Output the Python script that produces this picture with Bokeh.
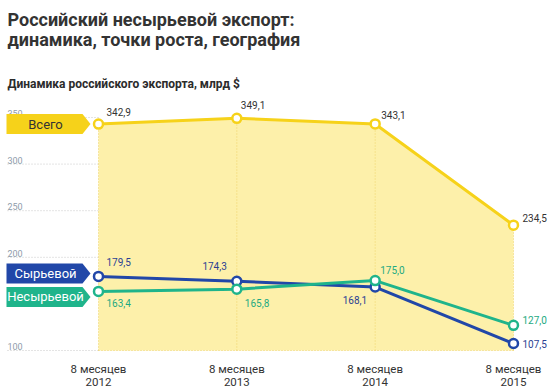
from bokeh.plotting import figure
from bokeh.models import Range1d, PolyAnnotation, Label
from bokeh.core.properties import value
from bokeh.embed import file_html
from bokeh.resources import INLINE

# ---- data ----
periods = ["8 месяцев\n2012", "8 месяцев\n2013", "8 месяцев\n2014", "8 месяцев\n2015"]
total = [342.9, 349.1, 343.1, 234.5]
raw = [179.5, 174.3, 168.1, 107.5]
nonraw = [163.4, 165.8, 175.0, 127.0]
y_ticks = [100, 200, 250, 300, 350]
series_names = ["Всего", "Сырьевой", "Несырьевой"]

# ---- layout constants ----
W, H = 550, 388
PX_X = 138.33          # px per x unit
PX_Y = 0.932           # px per y unit
X0 = -98 / PX_X
X1 = X0 + W / PX_X
Y1 = 100 + 350 / PX_Y
Y0 = Y1 - H / PX_Y
FONT = "Roboto"

def fx(px):
    return X0 + px / PX_X

def fy(px):
    return Y1 - px / PX_Y

YELLOW = "#f6d21a"
FILL = "#fdf0aa"
BLUE = "#2147a8"
TEAL = "#1fb48b"
DARK = "#333333"

xs = list(range(len(periods)))

p = figure(width=W, height=H, x_range=Range1d(X0, X1), y_range=Range1d(Y0, Y1),
           output_backend="svg", toolbar_location=None, title=None,
           x_axis_location=None, y_axis_location=None,
           min_border_left=0, min_border_right=0,
           min_border_top=0, min_border_bottom=0, outline_line_color=None,
           background_fill_color="white", border_fill_color="white")
p.xgrid.visible = False
p.ygrid.visible = False

# x tick labels (two lines each)
line1 = [s.split("\n")[0] for s in periods]
line2 = [s.split("\n")[1] for s in periods]
p.text(x=xs, y=[fy(368)] * len(xs), text=line1, text_align="center", text_baseline="alphabetic",
       text_font=value(FONT), text_font_size="11.5px", text_color=DARK)
p.text(x=xs, y=[fy(381)] * len(xs), text=line2, text_align="center", text_baseline="alphabetic",
       text_font=value(FONT), text_font_size="11.5px", text_color=DARK)

# horizontal dotted grid lines to the left of the area
p.segment(x0=[fx(7)] * len(y_ticks), y0=y_ticks, x1=[0] * len(y_ticks), y1=y_ticks,
          line_color="#c9c9c9", line_dash="1 2", line_width=1)
# y tick labels
p.text(x=[fx(7)] * len(y_ticks), y=y_ticks, text=[str(t) for t in y_ticks],
       text_font_size="9px", text_color="#8f9cab", text_baseline="alphabetic",
       text_align="left", y_offset=-4, text_font=value(FONT))

# total area
p.varea(x=xs, y1=[y_ticks[0]] * len(xs), y2=total, fill_color=FILL)
p.segment(x0=xs, y0=[y_ticks[0]] * len(xs), x1=xs, y1=total,
          line_color="#efd36a", line_dash="1 2", line_width=1)
p.segment(x0=[0], y0=[y_ticks[0]], x1=[xs[-1]], y1=[y_ticks[0]],
          line_color="#efd36a", line_dash="1 2", line_width=1)

for vals, col in [(total, YELLOW), (raw, BLUE), (nonraw, TEAL)]:
    p.line(xs, vals, line_color=col, line_width=3)
    p.scatter(xs, vals, size=9, marker="circle", fill_color="white",
              line_color=col, line_width=2.5)

def fmt(v):
    return f"{v:.1f}".replace(".", ",")

# value labels: (dx, dy up, align) per point
place = {
    "total": [(8, 12, "left"), (4, 13, "left"), (6, 9, "left"), (9, 7, "left")],
    "raw": [(8, 14, "left"), (-10, 15, "right"), (-8, -13, "right"), (9, 0, "left")],
    "nonraw": [(8, -12, "left"), (8, -14, "left"), (5, 11, "left"), (9, 5, "left")],
}
label_cols = {"total": DARK, "raw": "#2b3f93", "nonraw": "#1eaa82"}
for key, vals in [("total", total), ("raw", raw), ("nonraw", nonraw)]:
    for i, v in enumerate(vals):
        dx, dy, al = place[key][i]
        p.add_layout(Label(x=xs[i], y=v, text=fmt(v), x_offset=dx, y_offset=dy,
                           text_align=al, text_baseline="middle",
                           text_font=FONT, text_font_size="10px",
                           text_color=label_cols[key]))

# badges
badges = [
    (series_names[0], total[0], 0, YELLOW, DARK),
    (series_names[1], raw[0], 3, BLUE, "white"),
    (series_names[2], nonraw[0], -5.5, TEAL, "white"),
]
for name, v, shift, bg, fg in badges:
    yc = v + shift / PX_Y
    hh = 10 / PX_Y
    xl, xb, xt = fx(6), fx(82), fx(90)
    p.add_layout(PolyAnnotation(xs=[xl, xb, xt, xb, xl], ys=[yc + hh, yc + hh, yc, yc - hh, yc - hh],
                                fill_color=bg, fill_alpha=1, line_color=None))
    p.add_layout(Label(x=fx(45), y=yc, text=name, text_align="center", text_baseline="middle",
                       text_font=FONT, text_font_size="13px", text_color=fg))

# titles
p.add_layout(Label(x=fx(7), y=fy(19), text="Российский несырьевой экспорт:", text_align="left",
                   text_baseline="alphabetic", text_font=FONT, text_font_size="18px",
                   text_font_style="bold", text_color=DARK))
p.add_layout(Label(x=fx(7), y=fy(39), text="динамика, точки роста, география", text_align="left",
                   text_baseline="alphabetic", text_font=FONT, text_font_size="18px",
                   text_font_style="bold", text_color=DARK))
p.add_layout(Label(x=fx(7), y=fy(83), text="Динамика российского экспорта, млрд $", text_align="left",
                   text_baseline="alphabetic", text_font=FONT, text_font_size="12px",
                   text_font_style="bold", text_color="#2b2b2b"))

open("out.html", "w").write(file_html(p, INLINE))
